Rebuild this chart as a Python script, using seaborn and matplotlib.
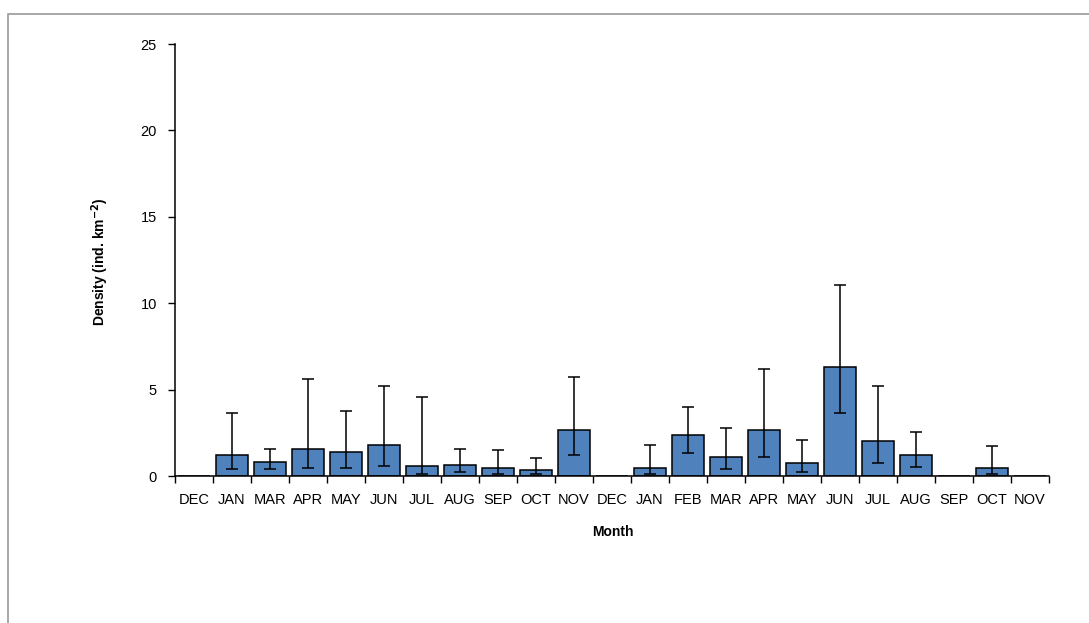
import numpy as np
import pandas as pd
import matplotlib
matplotlib.use("Agg")
import matplotlib.pyplot as plt
import seaborn as sns
from matplotlib.patches import Rectangle
from matplotlib.ticker import FixedLocator

# Monthly survey density (individuals per km^2), two consecutive survey years
months = ["DEC", "JAN", "MAR", "APR", "MAY", "JUN", "JUL", "AUG", "SEP", "OCT", "NOV",
          "DEC", "JAN", "FEB", "MAR", "APR", "MAY", "JUN", "JUL", "AUG", "SEP", "OCT", "NOV"]
density = [0.0, 1.23, 0.81, 1.58, 1.37, 1.79, 0.58, 0.65, 0.44, 0.33, 2.66,
           0.0, 0.46, 2.37, 1.10, 2.66, 0.73, 6.33, 2.03, 1.23, 0.0, 0.44, 0.0]
ci_low = [np.nan, 0.40, 0.40, 0.46, 0.46, 0.60, 0.10, 0.23, 0.10, 0.10, 1.23,
          np.nan, 0.10, 1.31, 0.39, 1.10, 0.25, 3.66, 0.75, 0.52, np.nan, 0.10, np.nan]
ci_high = [np.nan, 3.66, 1.58, 5.63, 3.78, 5.23, 4.57, 1.58, 1.52, 1.02, 5.71,
           np.nan, 1.79, 4.01, 2.80, 6.21, 2.08, 11.05, 5.23, 2.53, np.nan, 1.74, np.nan]

sns.set_theme(style="ticks")
plt.rcParams["font.family"] = ["Liberation Sans", "DejaVu Sans"]
plt.rcParams["text.color"] = "black"
plt.rcParams["xtick.labelcolor"] = "black"
plt.rcParams["ytick.labelcolor"] = "black"

W, H = 1089, 623
fig = plt.figure(figsize=(W / 100, H / 100), dpi=100)
ax = fig.add_axes([175 / W, 1 - 476 / H, (1049 - 175) / W, (476 - 44) / H])

slots = list(range(len(months)))
df = pd.DataFrame({"slot": slots, "density": density})
sns.barplot(data=df, x="slot", y="density", order=slots, color="#4F81BD",
            saturation=1, width=0.84, edgecolor="black", linewidth=1.1,
            errorbar=None, ax=ax)

dens = np.array(density)
lo = dens - np.array(ci_low)
hi = np.array(ci_high) - dens
ax.errorbar(slots, dens, yerr=[lo, hi], fmt="none", ecolor="black",
            elinewidth=1.1, capsize=4, capthick=1.1)

ax.set_xlim(-0.5, len(months) - 0.5)
ax.set_ylim(0, 25)
ax.set_yticks([0, 5, 10, 15, 20, 25])

# category boundaries get the tick marks, labels sit at the bar centres
ax.xaxis.set_major_locator(FixedLocator(np.arange(-0.5, len(months), 1.0)))
ax.xaxis.set_major_formatter(plt.NullFormatter())
ax.xaxis.set_minor_locator(FixedLocator(slots))
ax.set_xticklabels(months, minor=True)
ax.tick_params(axis="x", which="major", direction="out", length=5, width=1, color="black")
ax.tick_params(axis="x", which="minor", length=0, pad=12, labelsize=10.5,
               labelcolor="black")
ax.tick_params(axis="y", direction="out", length=5, width=1, color="black",
               pad=8, labelsize=10.5, labelcolor="black")

for side in ["top", "right"]:
    ax.spines[side].set_visible(False)
for side in ["left", "bottom"]:
    ax.spines[side].set_color("black")
    ax.spines[side].set_linewidth(1.1)

ax.set_xlabel("")
ax.set_ylabel("")
fig.text(613 / W, 1 - 532 / H, "Month", ha="center", va="center",
         fontsize=10, fontweight="bold", color="black")
fig.text(100 / W, 1 - 262 / H, "Density (ind. km$^{\\mathbf{-2}}$)", ha="center",
         va="center", rotation=90, fontsize=10, fontweight="bold", color="black")

# outer frame around the chart area
fig.patches.append(Rectangle((8 / W, -0.1), 1.2, 1 - 14 / H + 0.1,
                             transform=fig.transFigure, fill=False,
                             edgecolor="#9a9a9a", linewidth=1.2))

fig.savefig("out.png", dpi=100)
